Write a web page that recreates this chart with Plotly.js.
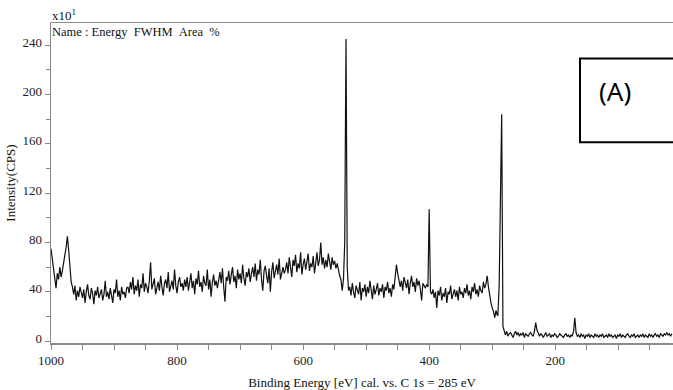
<!DOCTYPE html>
<html>
<head>
<meta charset="utf-8">
<script src="https://cdn.plot.ly/plotly-3.0.1.min.js"></script>
<style>html,body{margin:0;padding:0;background:#fff;}#chart{width:673px;height:390px;}</style>
</head>
<body>
<div id="chart"></div>
<script>
// XPS survey spectrum, binding energy (eV) vs intensity (x10^1 CPS)
const energyStep = 2;
// start energy (eV) of each recorded segment below, in order
const segmentStarts = [1000, 964, 878, 788, 734, 682, 628, 564, 536, 526, 452, 402, 396, 304, 291, 281];

const segA = [75, 66, 58, 52, 43, 55, 50, 60, 52, 57, 62, 70, 76, 85, 74, 62, 48, 44];
const segB = [38, 45, 33, 41, 36, 44, 39, 35, 42, 31, 40, 46, 37, 34, 43, 39, 30, 41, 37, 44, 35, 39, 42, 33, 38, 49, 36, 40, 34, 43, 38, 31, 42, 39, 50, 36, 41, 33, 44, 38, 40, 35, 43];
const segC = [44, 39, 48, 42, 52, 38, 45, 41, 50, 36, 46, 43, 55, 40, 47, 44, 39, 49, 64, 42, 46, 51, 38, 45, 48, 41, 53, 44, 37, 47, 50, 43, 56, 40, 46, 49, 42, 58, 45, 39, 48, 52, 44, 47, 41];
const segD = [50, 44, 52, 41, 47, 55, 43, 49, 38, 51, 46, 57, 44, 48, 40, 53, 47, 45, 58, 42, 50, 36, 48, 54, 45, 49, 43];
const segE = [51, 56, 47, 59, 44, 32, 52, 49, 57, 46, 54, 60, 48, 53, 43, 58, 50, 55, 47, 62, 51, 45, 56, 52, 59, 48];
const segF = [55, 60, 52, 63, 49, 58, 54, 66, 50, 41, 57, 61, 53, 47, 59, 40, 56, 64, 51, 58, 62, 54, 67, 50, 57, 60, 55];
const segG = [58, 64, 55, 68, 60, 52, 66, 61, 70, 56, 63, 59, 72, 54, 62, 67, 58, 65, 71, 57, 63, 60, 69, 55, 64, 72, 61, 66, 80, 62, 68, 59];
const segH = [66, 60, 71, 63, 58, 68, 62, 65, 59, 63, 56, 53, 50, 41];
const segO1s = [50, 80, 245, 60, 41];
const segJ = [44, 37, 47, 40, 35, 45, 42, 38, 48, 33, 43, 40, 46, 36, 44, 39, 49, 41, 34, 45, 38, 42, 47, 37, 43, 40, 46, 35, 44, 41, 48, 39, 43, 36, 46, 42, 52];
const segK = [62, 55, 50, 44, 49, 41, 52, 46, 43, 50, 38, 47, 53, 44, 48, 40, 51, 45, 49, 42, 33, 47, 45, 43, 46];
const segN1s = [44, 107, 40];
const segM = [38, 42, 35, 40, 27, 41, 37, 44, 33, 39, 36, 43, 31, 40, 38, 45, 34, 39, 42, 36, 41, 33, 44, 38, 40, 35, 43, 39, 46, 37, 41, 34, 44, 40, 47, 38, 42, 36, 45, 41, 39, 48, 43, 46, 53, 44];
const segDrop = [36, 31, 27, 24, 19, 25, 21];
const segC1s = [21, 45, 100, 184, 12];
const segTail = [7, 5, 8, 4, 6, 7, 5, 3, 6, 8, 5, 7, 4, 6, 5, 7, 3, 6, 5, 4, 6, 7, 5, 4, 8,
  15, 9, 6,
  4, 6, 5, 3, 5, 7, 4, 5, 6, 3, 5, 4, 6, 5, 3, 4, 6, 5, 4, 3, 5, 6, 4, 5, 3, 5, 4, 8,
  19, 7,
  4, 5, 3, 6, 4, 5, 2, 5, 4, 6, 3, 5, 4, 3, 6, 4, 5, 3, 5, 4, 6, 3, 4, 5, 3, 6, 4, 5, 3, 4,
  5, 2, 5, 4, 6, 3, 5, 4, 3, 5, 6, 4, 3, 5, 4, 6, 3, 4, 5, 3, 5, 4, 6, 3, 5, 4, 3, 6, 4, 5,
  3, 5, 6, 4, 5, 3, 6, 5, 4, 6, 5, 7, 5, 6, 4, 6];

const segments = [segA, segB, segC, segD, segE, segF, segG, segH, segO1s, segJ, segK, segN1s, segM, segDrop, segC1s, segTail];

const xTitle = 'Binding Energy [eV] cal. vs. C 1s = 285 eV';
const yTitle = 'Intensity(CPS)';
const scaleLabel = 'x10<sup>1</sup>';
const headerLabel = 'Name : Energy\u00a0\u00a0FWHM\u00a0\u00a0Area\u00a0\u00a0%';
const panelLabel = '(A)';

const energy = [], intensity = [];
segments.forEach((seg, i) => {
  seg.forEach((v, j) => {
    energy.push(segmentStarts[i] - j * energyStep);
    intensity.push(v);
  });
});

const serif = 'Liberation Serif, Times New Roman, serif';
const axisGray = '#8a8a8a';

const trace = {
  x: energy, y: intensity, type: 'scatter', mode: 'lines',
  line: {color: '#111', width: 1.2}, hoverinfo: 'skip'
};

const layout = {
  width: 673, height: 390,
  margin: {l: 51, r: 0, t: 23, b: 47, pad: 0},
  paper_bgcolor: '#fff', plot_bgcolor: '#fff',
  showlegend: false,
  font: {family: serif, size: 13, color: '#1c1c2a'},
  xaxis: {
    range: [1000, 13.2], tickmode: 'linear', tick0: 0, dtick: 200,
    ticks: 'outside', ticklen: 5, tickcolor: axisGray, tickwidth: 1,
    showline: true, linecolor: axisGray, linewidth: 1.5, mirror: true,
    showgrid: false, zeroline: false,
    minor: {dtick: 50, ticks: 'outside', ticklen: 5, tickcolor: axisGray, showgrid: false},
    tickfont: {family: serif, size: 13},
    title: {text: xTitle, standoff: 14, font: {family: serif, size: 13, color: '#111'}},
    automargin: false
  },
  yaxis: {
    range: [-1.5, 258], tickmode: 'linear', tick0: 0, dtick: 40,
    ticks: 'outside', ticklen: 5, tickcolor: axisGray, tickwidth: 1,
    showline: true, linecolor: axisGray, linewidth: 1.5,
    showgrid: false, zeroline: false,
    minor: {dtick: 20, ticks: 'outside', ticklen: 4, tickcolor: axisGray, showgrid: false},
    tickfont: {family: serif, size: 13},
    ticklabelshift: -3,
    title: {text: yTitle, standoff: 4, font: {family: serif, size: 13, color: '#111'}},
    automargin: false
  },
  shapes: [{
    type: 'rect', xref: 'paper', yref: 'paper',
    x0: 0.8505, x1: 1.05, y0: 0.627, y1: 0.889,
    line: {color: '#000', width: 2}, fillcolor: 'rgba(0,0,0,0)'
  }],
  annotations: [
    {xref: 'paper', yref: 'paper', x: 0, y: 1, xanchor: 'left', yanchor: 'bottom',
     text: scaleLabel, showarrow: false, font: {family: serif, size: 13, color: '#111'}, xshift: -1, yshift: -2},
    {xref: 'paper', yref: 'paper', x: 0, y: 1, xanchor: 'left', yanchor: 'top',
     text: headerLabel, showarrow: false, font: {family: serif, size: 12.5, color: '#111'}, xshift: -1, yshift: 0},
    {xref: 'paper', yref: 'paper', x: 0.9075, y: 0.7875, xanchor: 'center', yanchor: 'middle',
     text: panelLabel, showarrow: false, font: {family: 'Noto Sans, Open Sans, sans-serif', size: 26, color: '#000'}}
  ]
};

Plotly.newPlot('chart', [trace], layout, {staticPlot: true, displayModeBar: false});
</script>
</body>
</html>
